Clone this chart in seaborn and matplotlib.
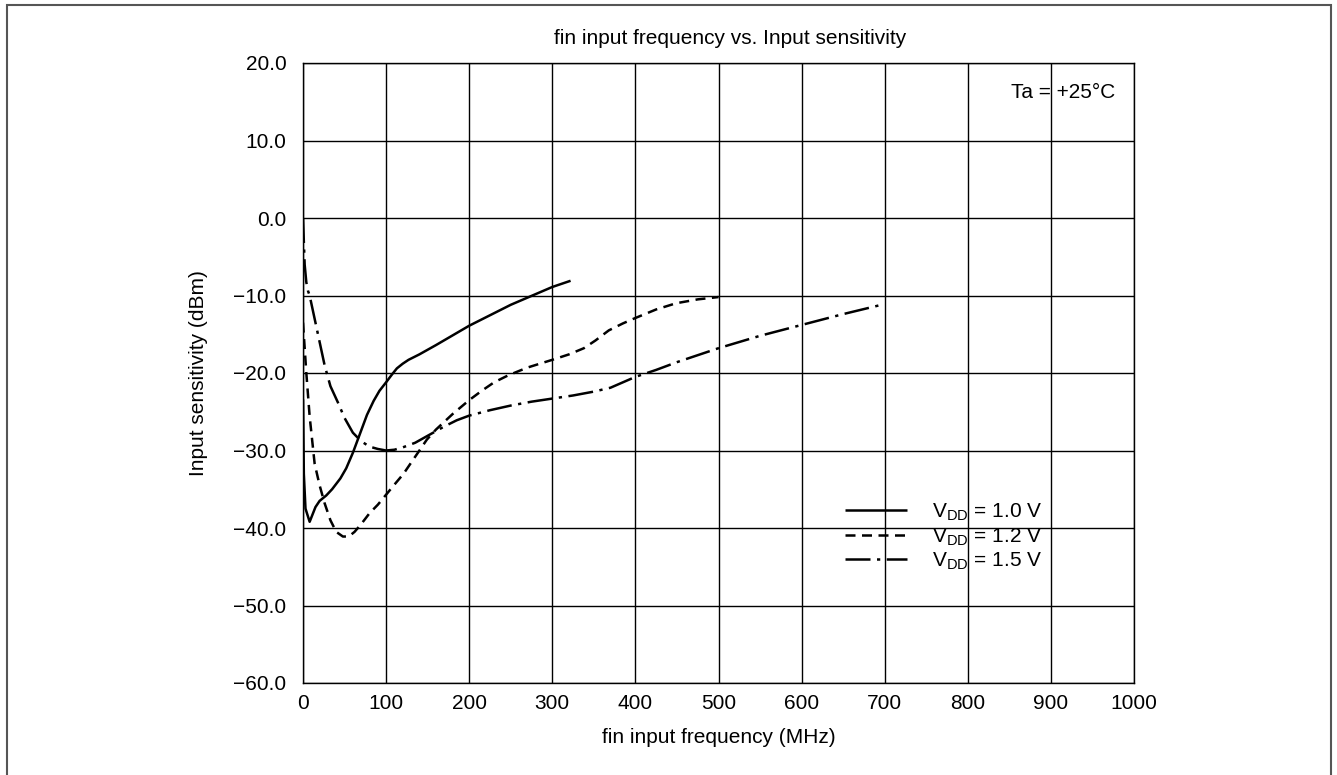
import numpy as np
import pandas as pd
import matplotlib
matplotlib.use('Agg')
import matplotlib.pyplot as plt
import seaborn as sns
from matplotlib.patches import Rectangle

# ── data ────────────────────────────────────────────────────
freq_10 = [0, 1, 3, 8, 15, 20, 28, 35, 45, 52, 60, 68, 77, 85, 92, 100, 107, 113,
           120, 127, 140, 160, 200, 250, 300, 322]
sens_10 = [-23.4, -33.0, -37.5, -39.2, -37.3, -36.5, -35.8, -35.0, -33.6, -32.3, -30.3,
           -28.0, -25.4, -23.6, -22.3, -21.2, -20.2, -19.4, -18.8, -18.3, -17.6, -16.4,
           -13.9, -11.2, -8.9, -8.1]

freq_12 = [0, 4, 8, 14, 20, 26, 33, 40, 48, 55, 62, 70, 80, 90, 100, 110, 121, 135,
           149, 160, 169, 180, 190, 200, 215, 230, 247, 270, 300, 320, 338, 352, 368,
           385, 400, 425, 449, 475, 500]
sens_12 = [-13.5, -20.0, -25.6, -31.7, -34.5, -36.8, -39.0, -40.5, -41.1, -41.1, -40.5,
           -39.5, -38.1, -37.0, -35.7, -34.4, -33.0, -30.8, -28.6, -27.3, -26.4, -25.3,
           -24.4, -23.5, -22.3, -21.2, -20.3, -19.3, -18.3, -17.6, -16.8, -15.8, -14.5,
           -13.6, -12.9, -11.8, -11.0, -10.5, -10.2]

freq_15 = [0, 1, 2, 4, 6, 8, 10, 15, 20, 26, 33, 42, 50, 60, 70, 80, 90, 100, 110, 120,
           135, 150, 170, 185, 200, 225, 250, 275, 300, 325, 350, 370, 385, 400, 425,
           450, 475, 500, 550, 600, 650, 700]
sens_15 = [0.0, -3.0, -6.0, -8.3, -9.4, -10.0, -11.0, -13.5, -16.0, -19.0, -21.7, -23.8,
           -25.8, -27.7, -28.8, -29.5, -29.8, -30.0, -29.9, -29.6, -29.0, -28.1, -26.9,
           -26.1, -25.5, -24.8, -24.2, -23.7, -23.3, -22.9, -22.4, -21.9, -21.2, -20.5,
           -19.6, -18.6, -17.7, -16.8, -15.2, -13.8, -12.4, -11.1]

series_labels = [r'V$_{\rm DD}$ = 1.0 V', r'V$_{\rm DD}$ = 1.2 V', r'V$_{\rm DD}$ = 1.5 V']
x_ticks = [0, 100, 200, 300, 400, 500, 600, 700, 800, 900, 1000]
y_ticks = [-60, -50, -40, -30, -20, -10, 0, 10, 20]
y_tick_labels = ['\u221260.0', '\u221250.0', '\u221240.0', '\u221230.0', '\u221220.0',
                 '\u221210.0', '0.0', '10.0', '20.0']

df = pd.concat([
    pd.DataFrame({'freq': freq_10, 'sens': sens_10, 'vdd': series_labels[0]}),
    pd.DataFrame({'freq': freq_12, 'sens': sens_12, 'vdd': series_labels[1]}),
    pd.DataFrame({'freq': freq_15, 'sens': sens_15, 'vdd': series_labels[2]}),
])

# ── style ───────────────────────────────────────────────────
sns.set_theme(style='white')
plt.rcParams['font.family'] = ['Liberation Sans', 'DejaVu Sans']
plt.rcParams['mathtext.fontset'] = 'custom'
plt.rcParams['mathtext.rm'] = 'Liberation Sans'
FS = 15

fig = plt.figure(figsize=(13.37, 7.75), dpi=100)
ax = fig.add_axes([303 / 1337, 1 - 683 / 775, 831 / 1337, 620 / 775])

styles = {series_labels[0]: (0, ()),
          series_labels[1]: (0, (4, 2.6)),
          series_labels[2]: (0, (10, 2.6, 1.3, 2.6))}
for lab in series_labels:
    sub = df[df['vdd'] == lab]
    sns.lineplot(data=sub, x='freq', y='sens', ax=ax, color='black', lw=1.8,
                 linestyle=styles[lab], label=lab, sort=False, estimator=None)

ax.set_xlim(0, 1000)
ax.set_ylim(-60, 20)
ax.set_xticks(x_ticks)
ax.set_xticklabels([str(t) for t in x_ticks], fontsize=FS)
ax.set_yticks(y_ticks)
ax.set_yticklabels(y_tick_labels, fontsize=FS)
ax.tick_params(axis='both', length=0, colors='black')
ax.tick_params(axis='x', pad=8)
ax.tick_params(axis='y', pad=12)
ax.grid(True, color='black', lw=1.0)
for s in ax.spines.values():
    s.set_color('black')
    s.set_linewidth(1.0)

ax.set_xlabel('fin input frequency (MHz)', fontsize=FS, color='black')
ax.set_ylabel('Input sensitivity (dBm)', fontsize=FS, color='black')
ax.xaxis.set_label_coords(0.5, -0.072)
ax.yaxis.set_label_coords(-0.114, 0.5)

fig.text(730 / 1337, 1 - 38 / 775, 'fin input frequency vs. Input sensitivity',
         ha='center', va='center', fontsize=FS, color='black')
ax.text(0.978, 0.967, 'Ta = +25\u00b0C', transform=ax.transAxes, ha='right', va='top',
        fontsize=FS, color='black')

leg = ax.legend(loc='upper left', bbox_to_anchor=(0.652, 0.293), frameon=False,
                fontsize=FS, handlelength=3.0, handletextpad=1.2, labelspacing=0.15,
                borderpad=0, borderaxespad=0)
for t in leg.get_texts():
    t.set_color('black')

# outer frame around the figure
fig.patches.append(Rectangle((7 / 1337, -0.02), (1331 - 7) / 1337, 1.02 - 5 / 775,
                             transform=fig.transFigure, fill=False,
                             edgecolor='#555555', lw=1.5))

fig.savefig('out.png', dpi=100)
